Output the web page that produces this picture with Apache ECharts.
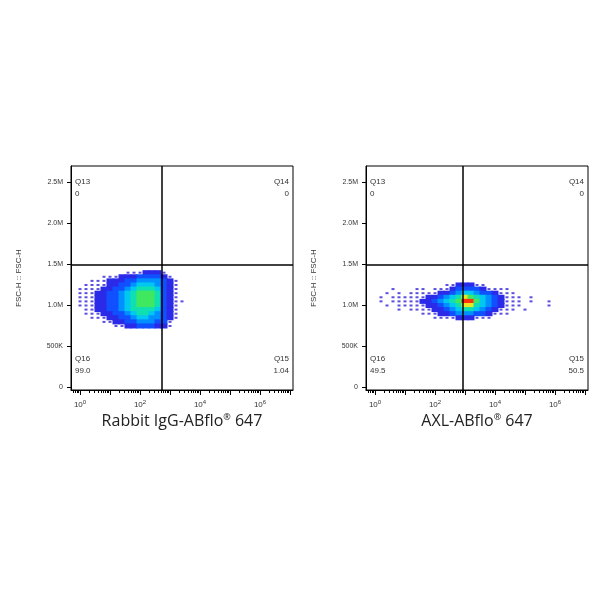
<!DOCTYPE html><html><head><meta charset="utf-8"><script src="https://cdn.jsdelivr.net/npm/echarts@6/dist/echarts.min.js"></script></head><body style="margin:0"><div id="c" style="width:600px;height:600px"></div><script>
// density grids (0-9), x = -0.2 + 0.2*i (log10 units), rows top->bottom
const leftRowsY=[1.40,1.35,1.30,1.25,1.20,1.15,1.10,1.05,1.00,0.95,0.90,0.85,0.80,0.75];
const leftRows=["0000000001112221000","0000011122233332100","0001112223344443210","0011112233455543210","0111122334566653210","0111223345677763210","0111223345677763210","0111223345677763211","0111223345677763210","0011223345666653210","0011122334566543210","0001112233455443210","0000011223344433100","0000000112233322100"];
const rightRowsY=[1.25,1.20,1.15,1.10,1.05,1.00,0.95,0.90,0.85];
const rightRows=["00000000000001122211000000000000","00001000110111233332111100000000","00010101111122345543321110000000","00101111112234568765432111010000","00101111122345679975432111010010","00010111112234568865432111000010","00000101111223456654321110100000","00000000011122344433211100000000","00000000000111122211100000000000"];
const leftGate=[2.73,1.5], rightGate=[2.93,1.5];
const leftPct=["0","0","99.0","1.04"], rightPct=["0","0","49.5","50.5"];
const xLabels=[0,2,4,6];
const yTicks=[0,0.5,1.0,1.5,2.0,2.5], yLabels=["0","500K","1.0M","1.5M","2.0M","2.5M"];
const titles=[["Rabbit IgG-ABflo"," 647"],["AXL-ABflo"," 647"]];
function pts(ys,rows){const o=[];rows.forEach((r,j)=>{for(let i=0;i<r.length;i++){const v=+r[i];if(v>0)o.push([-0.2+0.2*i,ys[j],v]);}});return o;}
const colors=['#5a4fe0','#2a2ae8','#1050ff','#0090ff','#00c8f0','#10e0b0','#40e860','#e8e820','#ff3010'];
const minor=[];for(let d=-1;d<8;d++)for(let k=2;k<10;k++){const v=d+Math.log10(k);if(v>-0.3&&v<7.1)minor.push(v);}
const grids=[{left:71,top:166,width:222,height:224,show:true,borderColor:'#000',borderWidth:1},{left:366,top:166,width:222,height:224,show:true,borderColor:'#000',borderWidth:1}];
const xAxis=[],yAxis=[],series=[];
[0,1].forEach(g=>{
 xAxis.push({type:'value',gridIndex:g,position:'bottom',min:-0.3,max:7.1,splitLine:{show:false},axisLine:{onZero:false,lineStyle:{color:'#000'}},axisTick:{customValues:[0,1,2,3,4,5,6,7],length:5,lineStyle:{color:'#000'}},axisLabel:{customValues:xLabels,formatter:v=>'10{s|'+v+'}',color:'#333',fontSize:8,fontFamily:'Arial',margin:9,rich:{s:{fontSize:6,verticalAlign:'top',padding:[0,0,6,0],color:'#333'}}}});
 xAxis.push({type:'value',gridIndex:g,position:'bottom',min:-0.3,max:7.1,splitLine:{show:false},axisLine:{show:false,onZero:false},axisTick:{customValues:minor,length:3,lineStyle:{color:'#000'}},axisLabel:{show:false}});
 yAxis.push({type:'value',gridIndex:g,position:'left',min:-0.03,max:2.7,splitLine:{show:false},axisLine:{onZero:false,lineStyle:{color:'#000'}},axisTick:{customValues:yTicks,length:4,lineStyle:{color:'#000'}},axisLabel:{customValues:yTicks,formatter:v=>yLabels[yTicks.indexOf(v)]||'',color:'#333',fontSize:7,fontFamily:'Arial'},name:'FSC-H :: FSC-H',nameLocation:'middle',nameGap:48,nameTextStyle:{color:'#333',fontSize:8,fontFamily:'Arial'}});
 const gate=g?rightGate:leftGate;
 series.push({type:'scatter',xAxisIndex:g*2,yAxisIndex:g,symbol:'rect',data:g?pts(rightRowsY,rightRows):pts(leftRowsY,leftRows),symbolSize:d=>d[2]===1?[3,2]:[7,5],itemStyle:{color:p=>colors[p.data[2]-1],opacity:1},silent:true,
  markLine:{silent:true,symbol:'none',label:{show:false},lineStyle:{color:'#000',width:1.5,type:'solid'},data:[{xAxis:gate[0]},{yAxis:gate[1]}]}});
});
const graphic=[];
[0,1].forEach(g=>{const L=grids[g].left,R=L+222,p=g?rightPct:leftPct;
 const t=(x,y,s,a)=>graphic.push({type:'text',x:x,y:y,style:{text:s,fontSize:8,fill:'#333',fontFamily:'Arial',textAlign:a}});
 t(L+4,178,'Q13','left');t(L+4,190,p[0],'left');t(R-4,178,'Q14','right');t(R-4,190,p[1],'right');
 t(L+4,355,'Q16','left');t(L+4,367,p[2],'left');t(R-4,355,'Q15','right');t(R-4,367,p[3],'right');
 graphic.push({type:'text',x:L+111,y:413,style:{text:titles[g][0]+'{r|®}'+titles[g][1],fontSize:16,fill:'#222',fontFamily:'Open Sans',align:'center',rich:{r:{fontSize:9,verticalAlign:'top',padding:[0,0,8,0],fill:'#222',fontFamily:'Open Sans'}}}});
});
const ch=echarts.init(document.getElementById('c'));
ch.setOption({animation:false,backgroundColor:'#fff',grid:grids,xAxis,yAxis,series,graphic});
</script></body></html>
